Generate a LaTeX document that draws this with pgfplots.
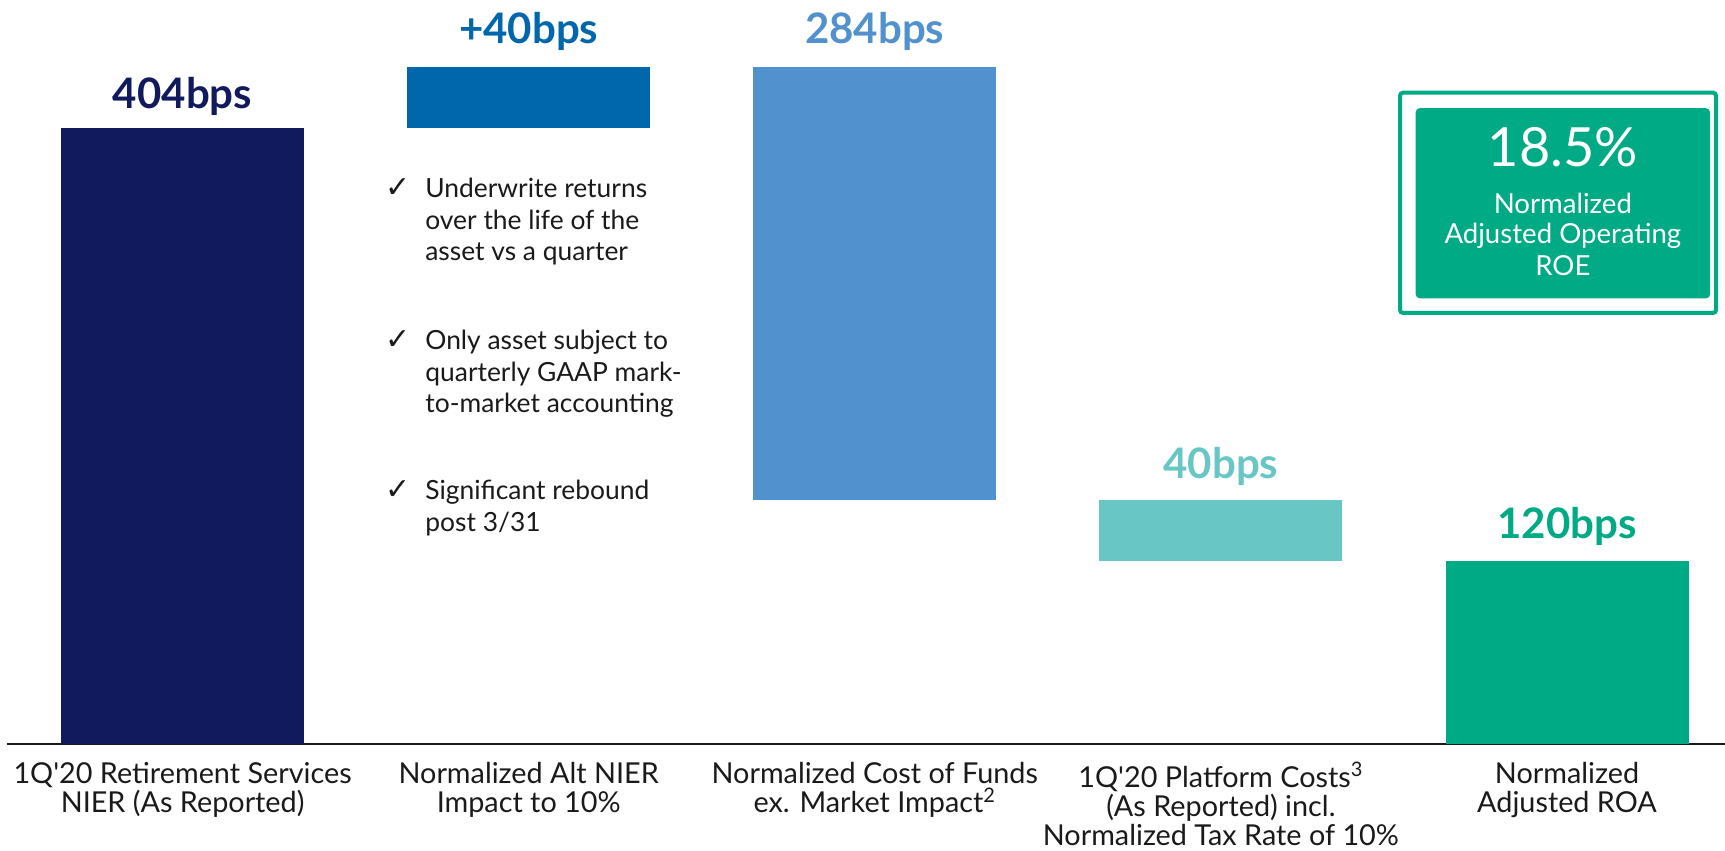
\documentclass[border=0pt]{standalone}
\usepackage{fontspec}
\setmainfont{Lato}
\newfontfamily\checkfont{DejaVu Sans}
\usepackage{pgfplots}
\pgfplotsset{compat=1.18}

\definecolor{navy}{HTML}{121A5E}
\definecolor{midblue}{HTML}{0067AC}
\definecolor{lightblue}{HTML}{5192CE}
\definecolor{tealc}{HTML}{68C7C5}
\definecolor{greenc}{HTML}{00AA84}
\definecolor{axisgray}{HTML}{1A1A1A}
\definecolor{txt}{HTML}{1A1A1A}

\tikzset{
    vlab/.style={anchor=base, font=\fontsize{21}{25}\selectfont\bfseries},
    btxt/.style={anchor=base west, inner sep=0pt, text=txt, font=\fontsize{13.2}{16}\selectfont},
    bchk/.style={anchor=base west, inner sep=0pt, text=txt, font=\checkfont\fontsize{15}{16}\selectfont},
    roetxt/.style={anchor=base, inner sep=0pt, text=white, font=\fontsize{13.8}{15}\selectfont},
}

\begin{document}
\begin{tikzpicture}
\begin{axis}[
    name=ax,
    x=173.05pt, y=0.7623pt,
    xmin=-0.5085, xmax=4.4565, ymin=0, ymax=488,
    axis x line=bottom, axis y line=none,
    x axis line style={-, line width=1pt, color=axisgray},
    ybar stacked, bar width=121.5pt,
    xtick={0,1,2,3,4},
    xticklabels={
        {1Q\textquotesingle20 Retirement Services\\NIER (As Reported)},
        {Normalized Alt NIER\\Impact to 10\%},
        {Normalized Cost of Funds\\ex. Market Impact\textsuperscript{2}},
        {1Q\textquotesingle20 Platform Costs\textsuperscript{3}\\(As Reported) incl.\\Normalized Tax Rate of 10\%},
        {Normalized\\Adjusted ROA}},
    major tick length=0pt,
    xticklabel style={font=\fontsize{14.4}{14.6}\selectfont, align=center,
        anchor=north, inner sep=0pt, yshift=-9pt, text=txt},
    ytick=\empty,
    clip=false,
]
% invisible base of the waterfall
\addplot[draw=none, fill=none] coordinates {(0,0) (1,404) (2,160) (3,120) (4,0)};
\addplot[fill=navy, draw=none] coordinates {(0,404) (1,0) (2,0) (3,0) (4,0)};
\addplot[fill=midblue, draw=none] coordinates {(0,0) (1,40) (2,0) (3,0) (4,0)};
\addplot[fill=lightblue, draw=none] coordinates {(0,0) (1,0) (2,284) (3,0) (4,0)};
\addplot[fill=tealc, draw=none] coordinates {(0,0) (1,0) (2,0) (3,40) (4,0)};
\addplot[fill=greenc, draw=none] coordinates {(0,0) (1,0) (2,0) (3,0) (4,120)};

% value labels
\node[vlab, text=navy] at (axis cs:0,417.0) {404bps};
\node[vlab, text=midblue] at (axis cs:1,459.6) {+40bps};
\node[vlab, text=lightblue] at (axis cs:2,459.6) {284bps};
\node[vlab, text=tealc] at (axis cs:3,174.1) {40bps};
\node[vlab, text=greenc] at (axis cs:4,134.5) {120bps};

% bullets
\node[bchk] at (axis cs:0.5850,358.2) {✓};
\node[btxt] at (axis cs:0.7003,358.2) {Underwrite returns};
\node[btxt] at (axis cs:0.7003,337.5) {over the life of the};
\node[btxt] at (axis cs:0.7003,316.9) {asset vs a quarter};
\node[bchk] at (axis cs:0.5850,258.6) {✓};
\node[btxt] at (axis cs:0.7003,258.6) {Only asset subject to};
\node[btxt] at (axis cs:0.7003,238.0) {quarterly GAAP mark-};
\node[btxt] at (axis cs:0.7003,217.3) {to-market accounting};
\node[bchk] at (axis cs:0.5850,160.1) {✓};
\node[btxt] at (axis cs:0.7003,160.1) {Significant rebound};
\node[btxt] at (axis cs:0.7003,139.4) {post 3/31};

% ROE box
\draw[greenc, line width=2pt, rounded corners=1.5pt] (axis cs:3.5175,427.2) rectangle (axis cs:4.4305,282.7);
\fill[greenc, rounded corners=2pt] (axis cs:3.5628,417.0) rectangle (axis cs:4.4132,292.3);
\coordinate (r0) at (axis cs:3.988,378.7);
\coordinate (r1) at (axis cs:3.988,348.1);
\coordinate (r2) at (axis cs:3.988,328.4);
\coordinate (r3) at (axis cs:3.988,307.6);
\end{axis}
\node[anchor=base, inner sep=0pt, text=white, font=\fontsize{27}{30}\selectfont] at (r0) {18.5\%};
\node[roetxt] at (r1) {Normalized};
\node[roetxt] at (r2) {Adjusted Operating};
\node[roetxt] at (r3) {ROE};
\pgfresetboundingbox
\path[use as bounding box] ([xshift=-3.3pt,yshift=-53pt]ax.south west) rectangle (ax.north east);
\end{tikzpicture}
\end{document}
